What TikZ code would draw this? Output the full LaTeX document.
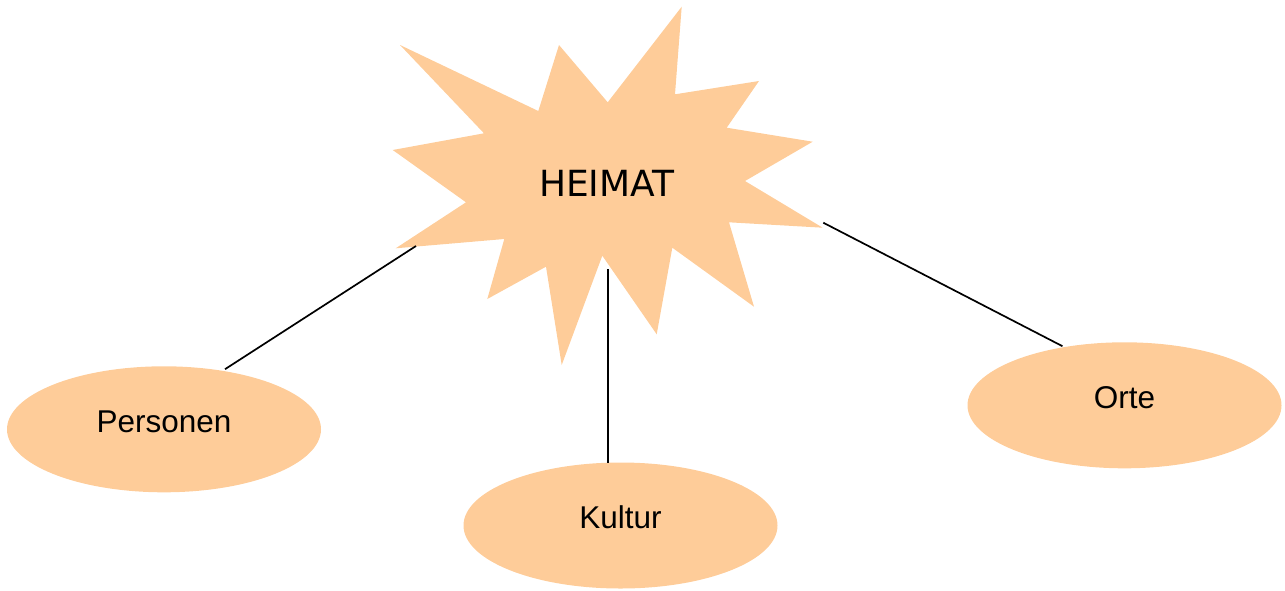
\documentclass[tikz,border=0pt]{standalone}
\usepackage{fontspec}
\setmainfont{Liberation Sans}
\newfontfamily\heimatfont{DejaVu Sans}
\usetikzlibrary{shapes.geometric}
\definecolor{peach}{RGB}{254,204,153}
\tikzset{
  bubble/.style={ellipse, fill=peach, draw=none, inner sep=0pt, outer sep=0pt,
    minimum width=314pt, minimum height=126pt,
    font=\fontsize{31.5}{31.5}\selectfont, text height=20pt, text depth=14pt},
  starfill/.style={fill=peach, draw=none},
  link/.style={draw=black, line width=1.7pt},
}
\begin{document}
\begin{tikzpicture}[x=1pt,y=-1pt]
\useasboundingbox (0,0) rectangle (1285,590);
% starburst
\path[starfill] (400,45) -- (538.3,111) -- (559,45) -- (607.7,102.3) -- (681.7,6.7)
  -- (675,94.3) -- (759,81) -- (726.7,127.7) -- (812.7,141.7) -- (745,181)
  -- (822.7,227.7) -- (729,222.3) -- (754,306.7) -- (672.3,247.7) -- (656.7,334.3)
  -- (602.3,255.7) -- (561.7,365) -- (546,266.7) -- (487.3,299) -- (504.3,239)
  -- (395.7,248.3) -- (466,202.3) -- (392.7,150) -- (484,133.3) -- cycle;
\node[anchor=base, font=\heimatfont\fontsize{36}{36}\selectfont] (heimat) at (606.7,196.7) {HEIMAT};
% connector ends on the star
\coordinate (s1) at (416,246);
\coordinate (s2) at (607.7,269.3);
\coordinate (s3) at (823.3,222.7);
% ellipses
\node[bubble] (personen) at (164,429.3) {Personen};
\node[bubble] (kultur) at (620.5,525.5) {Kultur};
\node[bubble] (orte) at (1124.5,405.3) {Orte};
% connectors
\draw[link, shorten >=3pt] (s1) -- (personen.45);
\draw[link] (s2) -- (s2 |- kultur.north);
\draw[link, shorten >=2pt] (s3) -- (orte.136);
\end{tikzpicture}
\end{document}
